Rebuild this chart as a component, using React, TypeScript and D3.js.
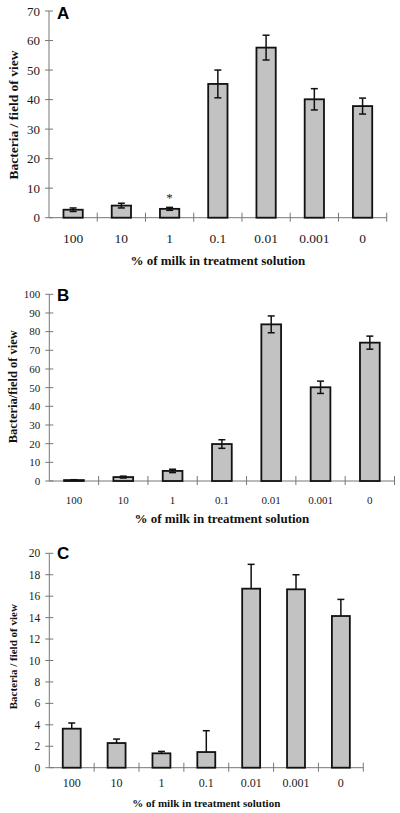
import React from "react";
import * as d3 from "d3";

const categories = ["100", "10", "1", "0.1", "0.01", "0.001", "0"];

const meansA = [2.7, 4.1, 3.0, 45.3, 57.6, 40.1, 37.8];
const errA = [0.6, 0.8, 0.5, 4.7, 4.2, 3.6, 2.7];

const meansB = [0.5, 2.1, 5.4, 19.8, 83.9, 50.2, 74.1];
const errB = [0.2, 0.5, 0.9, 2.3, 4.5, 3.3, 3.5];

const meansC = [3.64, 2.3, 1.34, 1.46, 16.7, 16.64, 14.15];
const errC = [0.53, 0.37, 0.18, 1.99, 2.27, 1.36, 1.55];

const yTicksA = [0, 10, 20, 30, 40, 50, 60, 70];
const yTicksB = [0, 10, 20, 30, 40, 50, 60, 70, 80, 90, 100];
const yTicksC = [0, 2, 4, 6, 8, 10, 12, 14, 16, 18, 20];

const xTitle = "% of milk in treatment solution";

type PanelProps = {
  letter: string;
  means: number[];
  errs: number[];
  yTicks: number[];
  yLabel: string;
  x0: number;
  x1: number;
  yTop: number;
  yBottom: number;
  tickFont: number;
  yTickFont: number;
  tickLabelY: number;
  titleY: number;
  titleFont: number;
  yLabelCenter: number;
  yLabelFont: number;
  letterY: number;
  upperOnly?: boolean;
  star?: number;
};

function Panel(p: PanelProps) {
  const yMax = p.yTicks[p.yTicks.length - 1];
  const x = d3
    .scaleBand<string>()
    .domain(categories)
    .range([p.x0, p.x1])
    .paddingInner(0.6)
    .paddingOuter(0.3);
  const y = d3.scaleLinear().domain([0, yMax]).range([p.yBottom, p.yTop]);
  const step = x.step();
  const axisColor = "#777";
  const cap = 3.5;
  return (
    <g>
      <line x1={p.x0} x2={p.x0} y1={p.yTop} y2={p.yBottom} stroke={axisColor} strokeWidth={1} />
      {p.yTicks.map((t) => (
        <g key={"yt" + t}>
          <line x1={p.x0 - 4} x2={p.x0 + 4} y1={y(t)} y2={y(t)} stroke={axisColor} strokeWidth={1} />
          <text
            x={p.x0 - 9}
            y={y(t)}
            dy="0.35em"
            textAnchor="end"
            fontFamily="'Liberation Serif', 'Times New Roman', serif"
            fontSize={p.yTickFont}
            fill="#1a1a1a"
          >
            {t}
          </text>
        </g>
      ))}
      <line x1={p.x0} x2={p.x1} y1={p.yBottom} y2={p.yBottom} stroke={axisColor} strokeWidth={1} />
      {categories.map((c, i) => (
        <line
          key={"xt" + c}
          x1={p.x0 + (i + 1) * step}
          x2={p.x0 + (i + 1) * step}
          y1={p.yBottom - 5}
          y2={p.yBottom + 4}
          stroke={axisColor}
          strokeWidth={1}
        />
      ))}
      {categories.map((c, i) => {
        const bx = x(c)!;
        const bw = x.bandwidth();
        const cx = bx + bw / 2;
        const top = y(p.means[i]);
        const hi = y(p.means[i] + p.errs[i]);
        const lo = p.upperOnly ? top : y(Math.max(0, p.means[i] - p.errs[i]));
        return (
          <g key={"bar" + c}>
            <rect
              x={bx}
              y={top}
              width={bw}
              height={p.yBottom - top}
              fill="#c2c2c2"
              stroke="#111"
              strokeWidth={1.8}
            />
            <line x1={cx} x2={cx} y1={hi} y2={lo} stroke="#111" strokeWidth={1.5} />
            <line x1={cx - cap} x2={cx + cap} y1={hi} y2={hi} stroke="#111" strokeWidth={1.5} />
            {!p.upperOnly && (
              <line x1={cx - cap} x2={cx + cap} y1={lo} y2={lo} stroke="#111" strokeWidth={1.5} />
            )}
            <text
              x={cx}
              y={p.tickLabelY}
              dy="0.35em"
              textAnchor="middle"
              fontFamily="'Liberation Serif', 'Times New Roman', serif"
              fontSize={p.tickFont}
              fill="#1a1a1a"
            >
              {c}
            </text>
          </g>
        );
      })}
      {p.star !== undefined && (
        <text
          x={x(categories[2])! + x.bandwidth() / 2}
          y={y(p.star)}
          dy="0.7em"
          textAnchor="middle"
          fontFamily="'Liberation Serif', serif"
          fontSize={13}
          fill="#222"
        >
          *
        </text>
      )}
      <text
        x={(p.x0 + p.x1) / 2}
        y={p.titleY}
        dy="0.35em"
        textAnchor="middle"
        fontFamily="'Liberation Serif', 'Times New Roman', serif"
        fontWeight="bold"
        fontSize={p.titleFont}
        fill="#111"
      >
        {xTitle}
      </text>
      <text
        transform={`translate(13,${p.yLabelCenter}) rotate(-90)`}
        dy="0.35em"
        textAnchor="middle"
        fontFamily="'Liberation Serif', 'Times New Roman', serif"
        fontWeight="bold"
        fontSize={p.yLabelFont}
        fill="#111"
      >
        {p.yLabel}
      </text>
      <text
        x={57}
        y={p.letterY}
        dy="0.35em"
        fontFamily="'Liberation Sans', Arial, sans-serif"
        fontWeight="bold"
        fontSize={17}
        fill="#000"
      >
        {p.letter}
      </text>
    </g>
  );
}

export default function App() {
  return (
    <svg
      width={400}
      height={813}
      style={{ position: "absolute", left: 0, top: 0, background: "#fff" }}
    >
      <rect x={0} y={0} width={400} height={813} fill="#fff" />
      <Panel
        letter="A"
        means={meansA}
        errs={errA}
        yTicks={yTicksA}
        yLabel="Bacteria / field of view"
        x0={49}
        x1={386.7}
        yTop={11}
        yBottom={217.7}
        tickFont={13.5}
        yTickFont={13}
        tickLabelY={238}
        titleY={260}
        titleFont={13}
        yLabelCenter={115}
        yLabelFont={13.5}
        letterY={13}
        star={8.5}
      />
      <Panel
        letter="B"
        means={meansB}
        errs={errB}
        yTicks={yTicksB}
        yLabel="Bacteria/field of view"
        x0={49.3}
        x1={394.5}
        yTop={294.3}
        yBottom={481}
        tickFont={11}
        yTickFont={11}
        tickLabelY={500}
        titleY={518}
        titleFont={13}
        yLabelCenter={386.7}
        yLabelFont={12.5}
        letterY={295}
      />
      <Panel
        letter="C"
        means={meansC}
        errs={errC}
        yTicks={yTicksC}
        yLabel="Bacteria / field of view"
        x0={49.3}
        x1={363.3}
        yTop={553.3}
        yBottom={767.7}
        tickFont={12}
        yTickFont={11.5}
        tickLabelY={783}
        titleY={803}
        titleFont={11}
        yLabelCenter={656.7}
        yLabelFont={11}
        letterY={553}
        upperOnly
      />
    </svg>
  );
}
